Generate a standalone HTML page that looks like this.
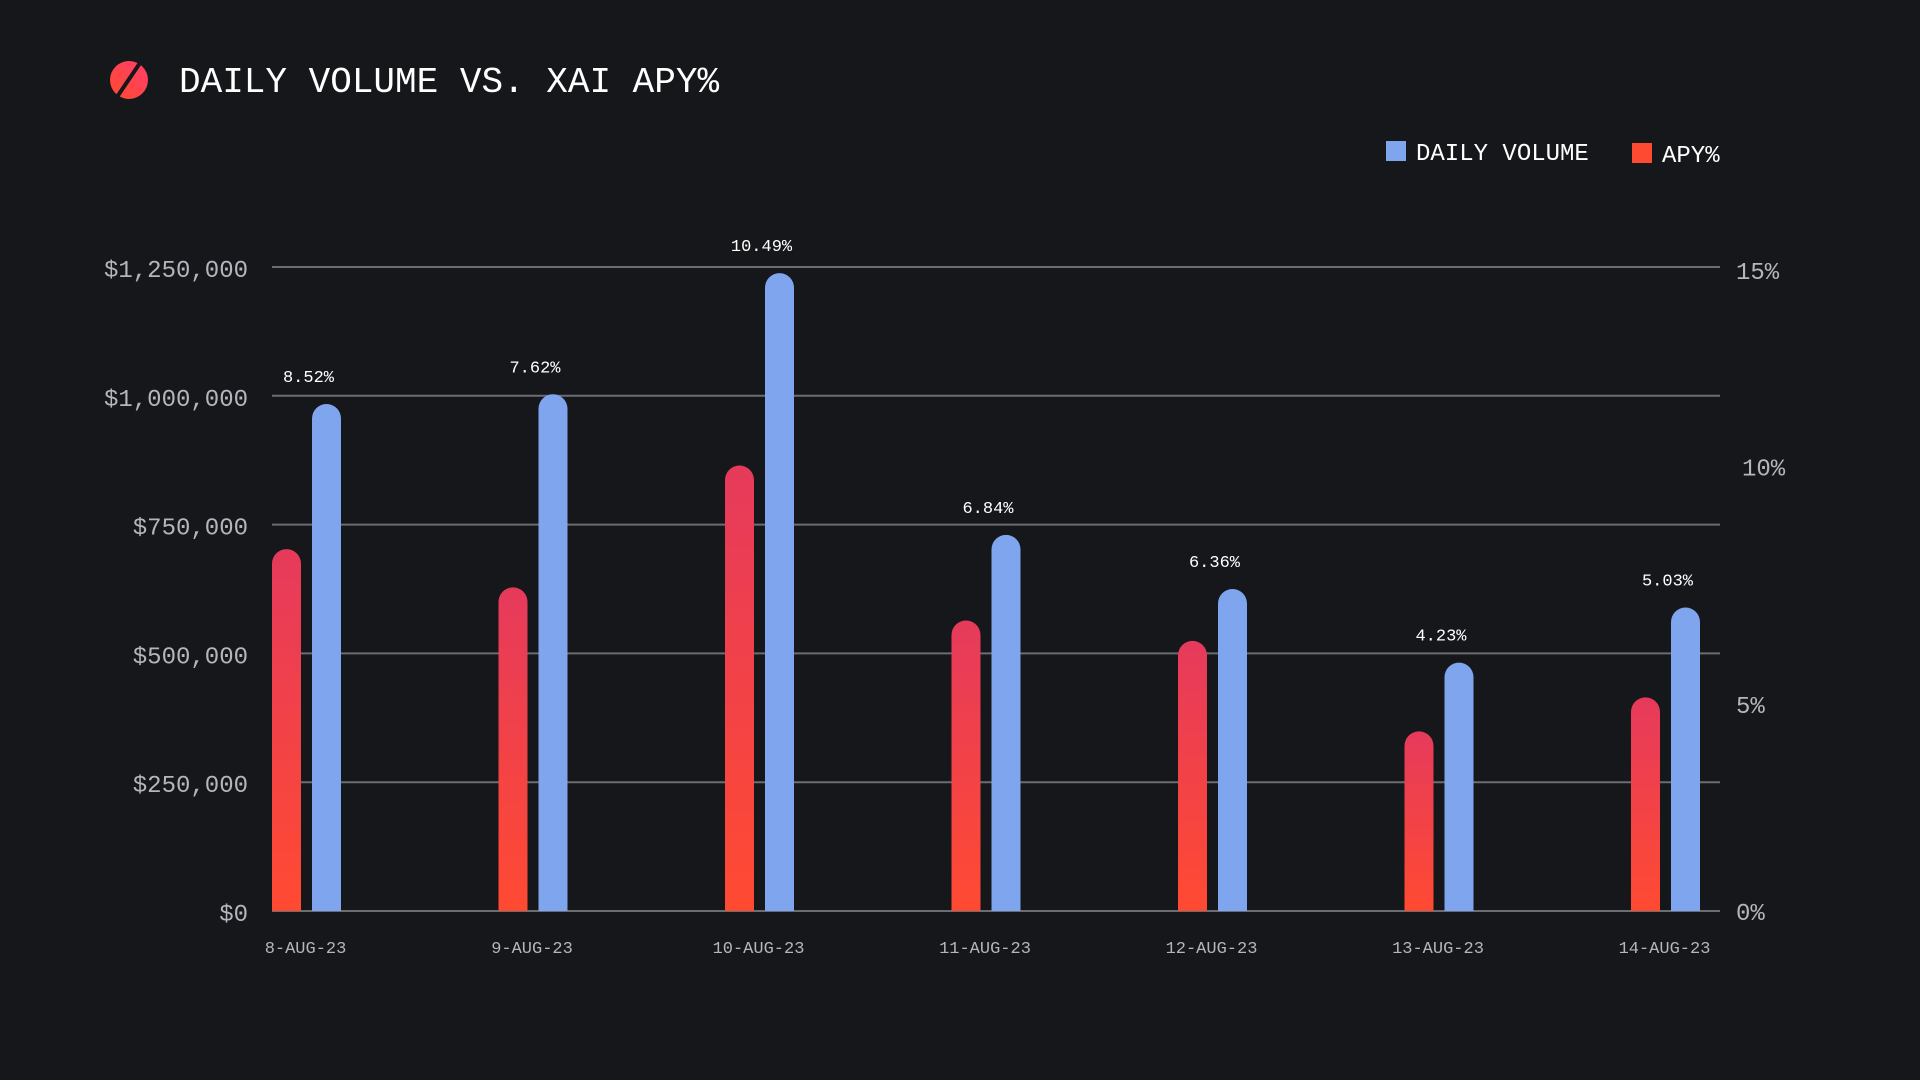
<!DOCTYPE html>
<html><head><meta charset="utf-8"><style>
html,body{margin:0;padding:0;background:#16171b;width:1920px;height:1080px;overflow:hidden}
svg{display:block}
text{font-family:"Liberation Mono",monospace}
</style></head><body>
<svg id="chart" width="1920" height="1080" viewBox="0 0 1920 1080">
<defs>
<linearGradient id="redGrad" x1="0" y1="0" x2="0" y2="1">
<stop offset="0" stop-color="#e63a5c"/><stop offset="1" stop-color="#ff4a32"/>
</linearGradient>
<linearGradient id="iconGrad" x1="1" y1="0" x2="0" y2="1">
<stop offset="0" stop-color="#ff3d6a"/><stop offset="1" stop-color="#ff4a2e"/>
</linearGradient>
</defs>
<g>
<circle cx="129" cy="80" r="19" fill="url(#iconGrad)"/>
<line x1="140" y1="63" x2="117" y2="97" stroke="#16171b" stroke-width="4"/>
</g>
<text x="179" y="92" font-size="36" fill="#ffffff">DAILY VOLUME VS. XAI APY%</text>
<g>
<rect x="1386" y="141" width="20" height="20" fill="#7fa5ee"/>
<text x="1416" y="160" font-size="24" fill="#ffffff">DAILY VOLUME</text>
<rect x="1632" y="143" width="20" height="20" fill="#ff4a32"/>
<text x="1662" y="162" font-size="24" fill="#ffffff">APY%</text>
</g>
<g id="grid"></g>
<g id="bars"></g>
<g id="labels"></g>
</svg>
<script>
const categories=["8-AUG-23","9-AUG-23","10-AUG-23","11-AUG-23","12-AUG-23","13-AUG-23","14-AUG-23"];
const volume=[984000,1003000,1238000,730000,625000,482000,589000];
const apy=[8.52,7.62,10.49,6.84,6.36,4.23,5.03];
const leftTicks=[0,250000,500000,750000,1000000,1250000];
const leftTickLabels=["$0","$250,000","$500,000","$750,000","$1,000,000","$1,250,000"];
const rightTicks=[0,5,10,15];
const rightTickLabels=["0%","5%","10%","15%"];

const NS="http://www.w3.org/2000/svg";
const plotL=272,plotR=1720,y0=911,yTop=267;
function yVol(v){return y0-(v/1250000)*(y0-yTop);}
function yApy(v){return y0-(v/15)*637;}
const groupStep=(1631-272)/6;
function xGroup(i){return plotL+i*groupStep;}
const barW=29,gap=11;
function mk(tag,attrs,parent){const e=document.createElementNS(NS,tag);for(const k in attrs)e.setAttribute(k,attrs[k]);parent.appendChild(e);return e;}
const grid=document.getElementById('grid'),bars=document.getElementById('bars'),labels=document.getElementById('labels');

leftTicks.forEach((t,i)=>{
  const y=yVol(t);
  const l=mk('line',{x1:plotL,x2:plotR,y1:y,y2:y,stroke:'#6b6d73','stroke-width':2},grid);
  
  
  const tx=mk('text',{x:248,y:y+10,'font-size':24,fill:'#b3b6bd','text-anchor':'end'},labels);
  tx.textContent=leftTickLabels[i];
  
  
});
const rightPos={0:0,5:4.87,10:10.47,15:15.1};
rightTicks.forEach((t,i)=>{
  const y=yApy(rightPos[t]);
  const tx=mk('text',{x:t===10?1742:1736,y:y+9,'font-size':24,fill:'#b3b6bd'},labels);
  tx.textContent=rightTickLabels[i];
  
  
});

function roundTopBar(x,yt,w,color,name){
  const r=w/2,h=y0-yt;
  const rr=Math.min(r,h);
  const d=`M${x},${y0} L${x},${yt+rr} A${r},${rr} 0 0 1 ${x+w},${yt+rr} L${x+w},${y0} Z`;
  const p=mk('path',{d:d,fill:color},bars);
  
  
}
categories.forEach((c,i)=>{
  const gx=xGroup(i);
  roundTopBar(gx,yApy(apy[i]),barW,'url(#redGrad)','bar-apy-'+(i+1));
  roundTopBar(gx+barW+gap,yVol(volume[i]),barW,'#7fa5ee','bar-volume-'+(i+1));
  const cx=gx+(2*barW+gap)/2;
  const v=mk('text',{x:cx+2,y:yVol(volume[i])-22,'font-size':17,fill:'#ffffff','text-anchor':'middle'},labels);
  v.textContent=apy[i].toFixed(2)+'%';
  
  
  const d=mk('text',{x:cx-1,y:953,'font-size':17,fill:'#b3b6bd','text-anchor':'middle'},labels);
  d.textContent=c;
  
  
});
</script>
</body></html>
